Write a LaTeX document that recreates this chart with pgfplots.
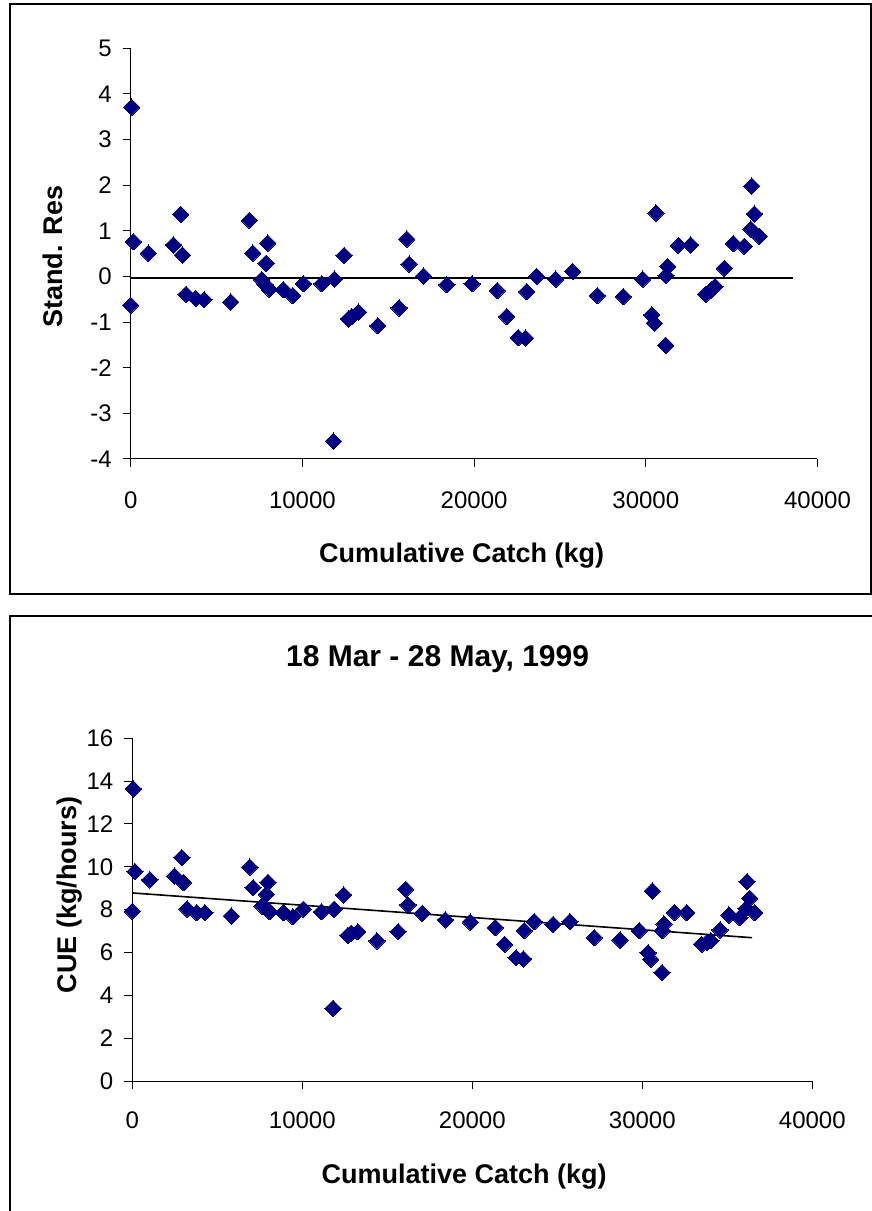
\documentclass[border=0pt]{standalone}
\usepackage{fontspec}
\setmainfont{Liberation Sans}
\usepackage{pgfplots}
\usepackage{pgfplotstable}
\pgfplotsset{compat=1.18}
\definecolor{navy}{RGB}{0,0,128}
\pgfplotstableread{
x sr cue
0 -0.63 7.93
58 3.71 13.64
155 0.76 9.78
1030 0.51 9.39
2486 0.69 9.57
2913 1.36 10.43
3010 0.47 9.26
3224 -0.39 8.03
3787 -0.48 7.86
4272 -0.51 7.86
5826 -0.56 7.70
6913 1.23 9.99
7108 0.51 9.03
7632 -0.07 8.17
7826 -0.18 8.10
7885 0.29 8.72
7982 0.73 9.28
8079 -0.28 7.90
8894 -0.29 7.86
9438 -0.42 7.67
10060 -0.16 8.02
11128 -0.16 7.90
11807 -3.61 3.39
11866 -0.06 8.02
12429 0.46 8.69
12681 -0.93 6.79
12876 -0.88 6.90
13264 -0.78 6.97
14390 -1.08 6.54
15633 -0.69 6.97
16080 0.82 8.95
16216 0.27 8.22
17051 0.01 7.83
18410 -0.18 7.52
19880 -0.16 7.42
21352 -0.31 7.16
21898 -0.88 6.38
22575 -1.34 5.76
23000 -1.35 5.70
23063 -0.33 7.02
23646 0.00 7.44
24752 -0.06 7.31
25742 0.11 7.44
27178 -0.42 6.69
28690 -0.44 6.58
29820 -0.06 7.02
30344 -0.84 5.99
30495 -1.02 5.68
30594 1.39 8.87
31159 -1.51 5.06
31176 0.02 7.02
31276 0.22 7.33
31893 0.68 7.87
32615 0.69 7.86
33488 -0.39 6.38
33800 -0.30 6.47
34030 -0.22 6.55
34573 0.18 7.05
35097 0.72 7.75
35737 0.66 7.62
36110 1.04 8.06
36167 1.98 9.31
36319 1.37 8.53
36610 0.88 7.86
}\datatable
\pgfplotsset{
  myaxis/.style={
    scale only axis,
    anchor=south west,
    axis x line*=bottom,
    axis y line*=left,
    xmin=0, xmax=40000,
    xtick={0,10000,20000,30000,40000},
    scaled x ticks=false,
    tick align=outside,
    major tick length=4pt,
    tick style={black, line width=0.5pt},
    axis line style={black, line width=0.5pt},
    /pgf/number format/assume math mode=true,
    /pgf/number format/set thousands separator={},
    tick label style={font=\fontsize{12}{14}\selectfont},
    yticklabel style={xshift=-2pt},
    label style={font=\fontsize{13.5}{16}\selectfont\bfseries},
    clip=false,
  },
  mymark/.style={only marks, mark=square*, mark size=2.9pt,
    mark options={rotate=45, fill=navy, draw=navy, line width=0pt}},
}
\begin{document}
\begin{tikzpicture}
\path[use as bounding box] (0,0) rectangle (436pt,605.5pt);
\draw[line width=0.75pt] (5pt,308.5pt) rectangle (435.5pt,603.5pt);
\draw[line width=0.75pt] (5pt,-2pt) -- (5pt,297.5pt) -- (437pt,297.5pt);
\begin{axis}[myaxis,
  at={(65.35pt,376pt)}, width=343.4pt, height=205.35pt,
  ymin=-4, ymax=5, ytick={-4,-3,...,5},
  xticklabel style={yshift=-9pt},
  xlabel={Cumulative Catch (kg)},
  xlabel style={at={(axis description cs:0.482,-0.235)}, anchor=center},
  ylabel={Stand. Res},
  ylabel style={at={(axis description cs:-0.113,0.4926)}, anchor=center},
]
\addplot[mymark] table[x=x, y=sr] {\datatable};
\addplot[black, line width=0.8pt] coordinates {(0,-0.04) (38600,-0.04)};
\end{axis}
\begin{axis}[myaxis,
  at={(66.15pt,65pt)}, width=340pt, height=171.35pt,
  ymin=0, ymax=16, ytick={0,2,...,16},
  xticklabel style={yshift=-8pt},
  title={18 Mar - 28 May, 1999},
  title style={at={(axis description cs:0.449,1)}, anchor=center, yshift=33.5pt, font=\fontsize{15}{18}\selectfont\bfseries},
  xlabel={Cumulative Catch (kg)},
  xlabel style={at={(axis description cs:0.488,-0.28)}, anchor=center},
  ylabel={CUE (kg/hours)},
  ylabel style={at={(axis description cs:-0.092,0.543)}, anchor=center},
]
\addplot[mymark] table[x=x, y=cue] {\datatable};
\addplot[black, line width=0.8pt] coordinates {(0,8.78) (36460,6.69)};
\end{axis}
\end{tikzpicture}
\end{document}
